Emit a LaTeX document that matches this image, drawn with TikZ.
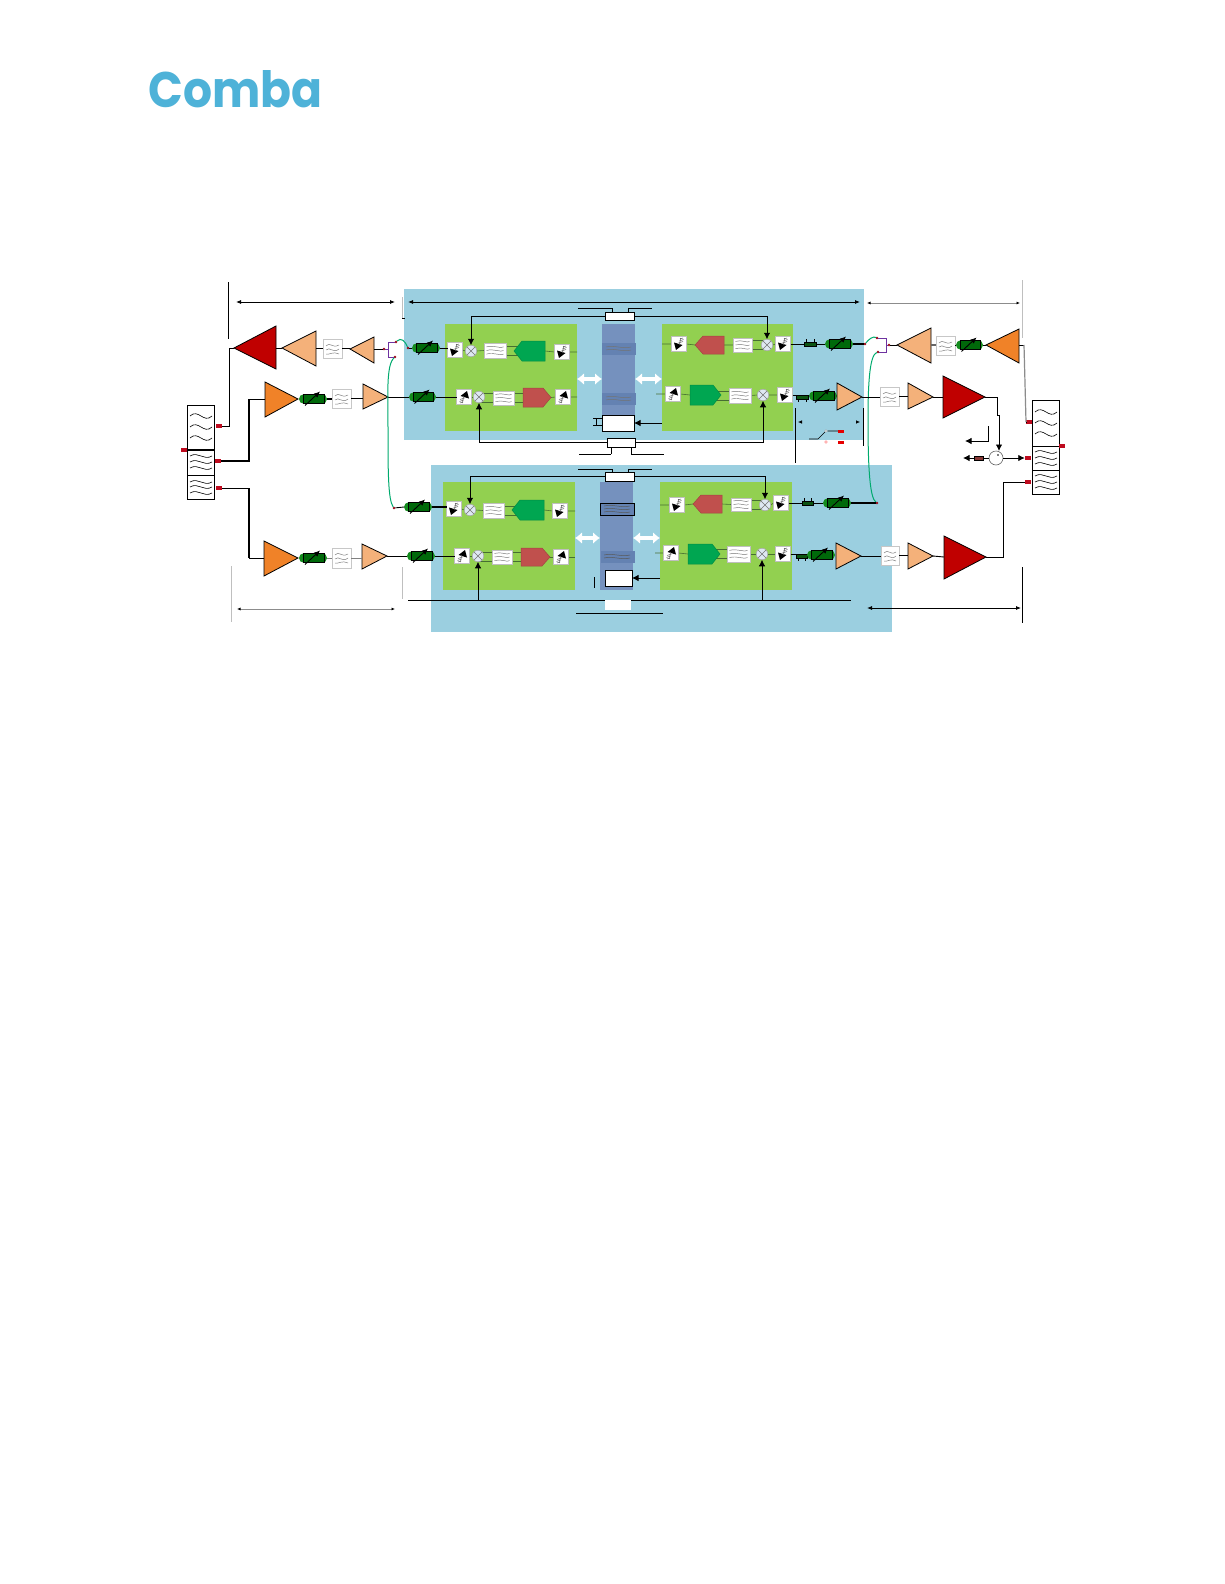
\documentclass[tikz,border=0pt]{standalone}
\usepackage{fontspec}
\newfontfamily\logofont{Poppins}
\usetikzlibrary{arrows.meta,shapes.misc,calc}
\definecolor{bluebg}{RGB}{155,207,224}
\definecolor{panelg}{RGB}{146,208,80}
\definecolor{barblue}{RGB}{117,145,190}
\definecolor{bandblue}{RGB}{100,130,178}
\definecolor{pentg}{RGB}{0,166,81}
\definecolor{pentr}{RGB}{192,80,77}
\definecolor{ampred}{RGB}{192,0,0}
\definecolor{amppeach}{RGB}{244,177,122}
\definecolor{amporange}{RGB}{240,130,40}
\definecolor{vgreen}{RGB}{20,140,30}
\definecolor{vdark}{RGB}{0,105,10}
\definecolor{padred}{RGB}{190,10,30}
\definecolor{curveg}{RGB}{0,170,110}
\definecolor{purp}{RGB}{110,50,160}
\definecolor{mixfill}{RGB}{222,232,242}
\definecolor{logoblue}{RGB}{78,178,216}
\definecolor{inwire}{RGB}{70,110,50}
\pgfdeclarelayer{under}\pgfdeclarelayer{wires}\pgfsetlayers{under,wires,main}
\tikzset{
  ampsty/.style={draw=black,line width=.8pt,line join=miter},
  wire/.style={black,line width=.9pt},
  fatwire/.style={black,line width=1.7pt},
  inw/.style={inwire,line width=.6pt},
  ctrl/.style={black,line width=.9pt,-{Latex[length=6.5pt,width=6.5pt]}},
  dimb/.style={black,line width=.8pt,{Latex[length=5pt,width=4pt]}-{Latex[length=5pt,width=4pt]}},
  dimg/.style={black!45,line width=.8pt,{Latex[length=3.5pt,width=3pt,black]}-{Latex[length=3.5pt,width=3pt,black]}},
  tickb/.style={black,line width=.9pt},
  tickg/.style={black!25,line width=.8pt},
  blk/.style={draw=none,fill=bluebg,inner sep=0pt,outer sep=0pt},
  pnl/.style={draw=none,fill=panelg,inner sep=0pt,outer sep=0pt},
  barb/.style={draw=none,fill=barblue,inner sep=0pt,outer sep=0pt},
  bandb/.style={draw=bandblue,line width=.4pt,fill=bandblue,inner sep=0pt,outer sep=0pt},
  bandk/.style={draw=black,line width=.8pt,fill=bandblue,inner sep=0pt,outer sep=0pt},
  whitebox/.style={draw=black,line width=.9pt,fill=white,inner sep=0pt,outer sep=0pt},
  plainwhite/.style={draw=none,fill=white,inner sep=0pt,outer sep=0pt},
  filtin/.style={draw=black!25,line width=.6pt,fill=white,inner sep=0pt,outer sep=0pt},
  filtamp/.style={draw=black!22,line width=.7pt,fill=white,inner sep=0pt,outer sep=0pt},
  sattbox/.style={draw=black!25,line width=.4pt,fill=white,minimum width=15pt,minimum height=15pt,inner sep=0pt,outer sep=0pt},
  mixer/.style={circle,draw=black!35,line width=.5pt,fill=mixfill,minimum size=11.5pt,inner sep=0pt,outer sep=0pt},
  pad/.style={fill=padred,draw=none,minimum width=6.5pt,minimum height=3.2pt,inner sep=0pt,outer sep=0pt},
  dotr/.style={fill=padred!80!black,draw=none,circle,minimum size=2.6pt,inner sep=0pt,outer sep=0pt},
  curve/.style={curveg,line width=1pt},
  dupbox/.style={draw=black,line width=.8pt,fill=white,inner sep=0pt,outer sep=0pt},
  whitearrow/.style={white,line width=4pt,{Latex[length=7pt,width=12pt]}-{Latex[length=7pt,width=12pt]}}
}
% box by corners
\newcommand\bx[6]{\pgfmathsetmacro\bxw{(#3)-(#1)}\pgfmathsetmacro\bxh{(#4)-(#2)}%
  \node[#6,minimum width=\bxw pt,minimum height=\bxh pt] (#5) at ({(#1+#3)/2},{(#2+#4)/2}) {};}
% triangle amp: name, tip x,y, base x, top, bottom, colour
\newcommand\tri[7]{\draw[ampsty,fill=#7] (#2,#3)--(#4,#5)--(#4,#6)--cycle;
  \coordinate (#1-t) at (#2,#3);\coordinate (#1-b) at (#4,#3);}
% variable attenuator
\newcommand\vatt[4]{\pgfmathsetmacro\vw{#3-#2}%
  \node[rounded rectangle,fill=vgreen,draw=none,minimum width=\vw pt,minimum height=9.5pt,inner sep=0pt,outer sep=0pt,rounded rectangle arc length=180] (#1) at ({(#2+#3)/2},#4) {};
  \draw[black,line width=.8pt,fill=vdark] ([shift={({-\vw/2+4},-4.5)}]#1.center) rectangle ([shift={({\vw/2-3},4.5)}]#1.center);
  \draw[black,line width=.9pt,-{Latex[length=6pt,width=5.5pt]}] ([shift={(-8,6.5)}]#1.center)--([shift={(7,-7.5)}]#1.center);}
% wave lines
\newcommand\wv[4]{\draw[#4] ({#1},{#3}) .. controls ({#1+(#2-#1)*.33},{#3-2.2}) and ({#1+(#2-#1)*.66},{#3+2.2}) .. ({#2},{#3});}
% inner filter with three waves
\newcommand\ifilt[5]{\bx{#2}{#3}{#4}{#5}{#1}{filtin}
  \wv{#2+2.5}{#4-2.5}{(#3+#5)/2-3.6}{black!55,line width=.45pt}
  \wv{#2+2.5}{#4-2.5}{(#3+#5)/2}{black!55,line width=.45pt}
  \wv{#2+2.5}{#4-2.5}{(#3+#5)/2+3.6}{black!55,line width=.45pt}}
% filter between amps
\newcommand\afilt[5]{\bx{#2}{#3}{#4}{#5}{#1}{filtamp}
  \draw[black!50,line width=.5pt] (#2+3,#3+7) .. controls (#2+7,#3+2) and (#2+9,#3+10) .. (#4-3,#3+6);
  \draw[black!50,line width=.5pt] (#2+3,#3+11) .. controls (#2+7,#3+7) and (#2+10,#3+15) .. (#4-3,#3+10);
  \draw[black!50,line width=.5pt] (#2+3,#3+15) .. controls (#2+7,#3+16) and (#2+10,#3+12) .. (#4-3,#3+15);}
% step attenuator
\newcommand\satt[4]{\node[sattbox] (#1) at (#2,#3) {};
  \begin{scope}[shift={(#2,#3)},rotate=#4]
   \fill[black] (-5,-1.5)--(3.5,1)--(-3,6)--cycle;
   \draw[black!60,line width=.5pt] (-.5,-1)--(4,-2.5) (.5,-3)--(4.5,-4.5) (1,-5)--(4,-6) (1.5,-6)--(.5,1);
  \end{scope}}
% mixer
\newcommand\mix[3]{\node[mixer] (#1) at (#2,#3) {};
  \draw[black!55,line width=.5pt] ([shift={(-3.8,-3.8)}]#1.center)--([shift={(3.8,3.8)}]#1.center) ([shift={(-3.8,3.8)}]#1.center)--([shift={(3.8,-3.8)}]#1.center);}
% pentagon pointing right/left: name,x1,y1,x2,y2,colour
\newcommand\pentR[6]{\draw[#6!85!black,line width=.5pt,fill=#6] (#2,#3)--(#4-8,#3)--(#4,{(#3+#5)/2})--(#4-8,#5)--(#2,#5)--cycle;
  \coordinate (#1-l) at (#2,{(#3+#5)/2});\coordinate (#1-r) at (#4,{(#3+#5)/2});\coordinate (#1-c) at ({(#2+#4)/2},{(#3+#5)/2});}
\newcommand\pentL[6]{\draw[#6!85!black,line width=.5pt,fill=#6] (#4,#3)--(#2+8,#3)--(#2,{(#3+#5)/2})--(#2+8,#5)--(#4,#5)--cycle;
  \coordinate (#1-l) at (#2,{(#3+#5)/2});\coordinate (#1-r) at (#4,{(#3+#5)/2});\coordinate (#1-c) at ({(#2+#4)/2},{(#3+#5)/2});}
% small inline filter: with marks above (1) or legs below (-1)
\newcommand\sfilt[6]{\bx{#2}{#3-2.2}{#4}{#3+2.2}{#1}{draw=black,line width=.5pt,fill=#5,inner sep=0pt,outer sep=0pt}
  \draw[black,line width=.6pt] (#2+2,#3-2*#6)--(#2+2,#3-5*#6) (#4-2,#3-2*#6)--(#4-2,#3-5*#6);}
% segment between two named coordinates
\newcommand\seg[6]{\coordinate (#1a) at (#2,#3);\coordinate (#1b) at (#4,#5);\draw[#6] (#1a)--(#1b);}
% level wire from a towards b
\newcommand\hw[3]{\draw[#1] (#2)--(#2 -| #3);}
% pair of double lines filter - pentagon
\newcommand\dbl[2]{\draw[inw] ([yshift=-4.5pt]#1.center)--([yshift=-4.5pt]#1.center -| #2);\draw[inw] ([yshift=4.5pt]#1.center)--([yshift=4.5pt]#1.center -| #2);}
% duplexer waves
\newcommand\dw[4]{\draw[black,line width=.6pt] (#1,#3) .. controls ({#1+(#2-#1)*.38},{#3-2*#4}) and ({#1+(#2-#1)*.62},{#3+2*#4}) .. (#2,#3);}

\begin{document}
\begin{tikzpicture}[x=1pt,y=-1pt]
\useasboundingbox (0,0) rectangle (1224,1584);

% logo
\node[inner sep=0pt,text=logoblue] (logo) at (235.5,89) {\resizebox{174pt}{37pt}{\logofont\bfseries Comba}};

\begin{pgfonlayer}{under}
\fill[white] (0,0) rectangle (1224,1584);
\bx{404}{289}{864}{440}{blueU}{blk}
\bx{431}{465}{892}{632}{blueL}{blk}
\bx{445}{324}{577}{431}{gUL}{pnl}
\bx{662}{324}{793}{431}{gUR}{pnl}
\bx{443}{482}{575}{590}{gLL}{pnl}
\bx{660}{482}{792}{590}{gLR}{pnl}
\bx{602}{324}{635}{431}{barU}{barb}
\bx{600}{482}{633}{590}{barL}{barb}
\bx{602}{343}{635}{354}{bandU1}{bandb}
\bx{602}{393}{635}{404}{bandU2}{bandb}
\bx{600}{503}{634}{515}{bandL1}{bandk}
\bx{601}{551}{634}{562}{bandL2}{bandb}
\end{pgfonlayer}

% waves in the bands
\foreach \yy in {347,350,397,400}{\wv{606}{631}{\yy}{black!55,line width=.5pt}}
\foreach \yy in {506,509,512,555,558}{\wv{604}{630}{\yy}{black!65,line width=.5pt}}

% ---------- upper block, components
\satt{a1}{455}{350}{0}
\mix{m1}{471}{351}
\ifilt{f1}{484}{343}{506}{358}
\pentL{p1}{514}{341}{545}{361}{pentg}
\satt{a2}{562}{352}{0}
\satt{a3}{464}{397}{180}
\mix{m2}{479}{397}
\ifilt{f2}{493}{391}{514}{405}
\pentR{p2}{523}{388}{551}{407}{pentr}
\satt{a4}{563}{397}{180}
\satt{a5}{679}{344}{0}
\pentL{p3}{695}{336}{724}{354}{pentr}
\ifilt{f3}{733}{338}{752}{352}
\mix{m3}{767}{345}
\satt{a6}{783}{344}{0}
\satt{a7}{673}{394}{180}
\pentR{p4}{690}{385}{721}{405}{pentg}
\ifilt{f4}{729}{388}{751}{403}
\mix{m4}{763}{395}
\satt{a8}{785}{395}{0}

% ---------- lower block, components
\satt{b1}{454}{509}{0}
\mix{n1}{470}{510}
\ifilt{g1}{483}{503}{504}{518}
\pentL{q1}{512}{500}{544}{520}{pentg}
\satt{b2}{560}{511}{0}
\satt{b3}{462}{556}{180}
\mix{n2}{478}{556}
\ifilt{g2}{492}{550}{512}{564}
\pentR{q2}{521}{548}{550}{566}{pentr}
\satt{b4}{561}{557}{180}
\satt{b5}{677}{505}{0}
\pentL{q3}{693}{495}{722}{513}{pentr}
\ifilt{g3}{731}{498}{751}{511}
\mix{n3}{765}{505}
\satt{b6}{781}{503}{0}
\satt{b7}{671}{553}{180}
\pentR{q4}{688}{544}{720}{564}{pentg}
\ifilt{g4}{727}{546}{750}{562}
\mix{n4}{762}{554}
\satt{b8}{783}{554}{0}

% control boxes
\bx{605}{312}{634}{320}{ctlU}{whitebox}
\bx{602}{415}{634}{431}{ocU}{whitebox}
\bx{607}{438}{635}{447}{ctlB}{whitebox}
\bx{605}{472}{634}{481}{ctlL}{whitebox}
\bx{605}{570}{632}{586}{ocL}{whitebox}

% inner wires
\begin{pgfonlayer}{wires}
\coordinate (ulout) at (577,352);
\draw[inw] (a1.east)--(m1.west) (m1.east)--(f1.west);
\dbl{f1}{p1-c}
\draw[inw] (p1-r)--(a2.west) (a2.east)--(ulout);
\coordinate (ulin2) at (452,397);
\draw[inw] (ulin2)--(a3.west) (a3.east)--(m2.west);
\dbl{f2}{m2}\dbl{f2}{p2-c}
\draw[inw] (p2-r)--(a4.west) (a4.east)--(gUL.east |- a4.east);
\coordinate (urin) at (662,344);\coordinate (urin2) at (656,394);
\draw[inw] (urin)--(a5.west) (a5.east)--(p3-l) (p3-r)--(f3.west);
\dbl{f3}{m3}
\draw[inw] (m3.east)--(a6.west);
\draw[inw] (urin2)--(a7.west) (a7.east)--(p4-l);
\dbl{f4}{p4-c}
\draw[inw] (f4.east)--(m4.west) (m4.east)--(a8.west);
\coordinate (llin2) at (450,556);
\draw[inw] (b1.east)--(n1.west) (n1.east)--(g1.west);
\dbl{g1}{q1-c}
\draw[inw] (q1-r)--(b2.west) (b2.east)--(gLL.east |- b2.east);
\draw[inw] (llin2)--(b3.west) (b3.east)--(n2.west);
\dbl{g2}{n2}\dbl{g2}{q2-c}
\draw[inw] (q2-r)--(b4.west) (b4.east)--(gLL.east |- b4.east);
\coordinate (lrin) at (660,505);\coordinate (lrin2) at (655,553);
\draw[inw] (lrin)--(b5.west) (b5.east)--(q3-l) (q3-r)--(g3.west);
\dbl{g3}{n3}
\draw[inw] (n3.east)--(b6.west);
\draw[inw] (lrin2)--(b7.west) (b7.east)--(q4-l);
\dbl{g4}{q4-c}
\draw[inw] (g4.east)--(n4.west) (n4.east)--(b8.west);
\end{pgfonlayer}

% control connectors
\draw[ctrl] (ctlU.west) -| (m1.north);
\draw[ctrl] (ctlU.east) -| (m3.north);
\draw[ctrl] (ctlB.west) -| (m2.south);
\draw[ctrl] (ctlB.east) -| (m4.south);
\draw[ctrl] (ctlL.west) -| (n1.north);
\draw[ctrl] (ctlL.east) -| (n3.north);
\draw[ctrl] (gUR.west |- ocU.east) -- (ocU.east);
\draw[ctrl] (gLR.west |- ocL.east) -- (ocL.east);
\coordinate (busl) at (408,600);\coordinate (busr) at (851,600);
\draw[wire] (busl)--(busr);
\bx{605}{600}{631}{610}{ctlW}{plainwhite}
\draw[ctrl] (n2.south |- busl)--(n2.south);
\draw[ctrl] (n4.south |- busl)--(n4.south);
% connector port of the upper white box
\draw[black,line width=.9pt] (593,418.5)--(602,418.5) (593,425)--(602,425) (596,418.5)--(596,425);

% white double arrows
\coordinate (yA) at (0,379);\coordinate (yB) at (0,538);
\draw[whitearrow] (gUL.east |- yA)--(barU.west |- yA);
\draw[whitearrow] (barU.east |- yA)--(gUR.west |- yA);
\draw[whitearrow] (gLL.east |- yB)--(barL.west |- yB);
\draw[whitearrow] (barL.east |- yB)--(gLR.west |- yB);

% stubs around the control boxes
\seg{s1}{578}{308}{612}{308}{wire}\seg{s2}{612}{308}{612}{312}{wire}
\seg{s3}{628}{312}{628}{308}{wire}\seg{s4}{628}{308}{652}{308}{wire}
\seg{s5}{579}{454}{611}{454}{wire}\seg{s6}{611}{454}{611}{447}{wire}
\seg{s7}{631}{447}{631}{454}{wire}\seg{s8}{631}{454}{664}{454}{wire}
\seg{s9}{578}{469}{612}{469}{wire}\seg{s10}{612}{469}{612}{472}{wire}
\seg{s11}{628}{472}{628}{469}{wire}\seg{s12}{628}{469}{652}{469}{wire}
\seg{s13}{576}{613}{663}{613}{wire}
\seg{s14}{594}{577}{594}{588}{wire}

% ---------- left side
\tri{Ar1}{234}{348}{276}{326}{369}{ampred}
\tri{Ap1}{282}{348}{316}{331}{366}{amppeach}
\afilt{Fa1}{323}{339}{342}{358}
\tri{Ap2}{350}{349}{374}{337}{363}{amppeach}
\tri{Ao1}{298}{399}{265}{382}{417}{amporange}
\vatt{Va1}{299}{327}{399}
\afilt{Fa2}{332}{389}{351}{408}
\tri{Ap3}{388}{397}{363}{384}{409}{amppeach}
\vatt{Va2}{409}{436}{397}
\vatt{Va3}{412}{440}{348}
\tri{Ao2}{298}{558}{264}{541}{576}{amporange}
\vatt{Va4}{299}{327}{558}
\afilt{Fa3}{332}{548}{351}{568}
\tri{Ap4}{387}{556}{362}{544}{569}{amppeach}
\vatt{Va5}{407}{435}{556}
\vatt{Va6}{404}{432}{507}

% left duplexer
\bx{187}{405}{214}{450}{DL1}{dupbox}
\bx{187}{450}{214}{475}{DL2}{dupbox}
\bx{187}{475}{214}{499}{DL3}{dupbox}
\draw[black,line width=1.6pt] (DL1.south west)--(DL1.south east);
\foreach \yy in {416,427,438}{\dw{190}{212}{\yy}{4}}
\foreach \yy in {456,462,468}{\dw{190}{212}{\yy}{2.5}}
\foreach \yy in {482,487,493}{\dw{190}{212}{\yy}{2.5}}
\node[pad] (PL0) at (184,450) {};
\node[pad] (PL1) at (219,426) {};
\node[pad] (PL2) at (218,461) {};
\node[pad] (PL3) at (219,488) {};

% left wires
\coordinate (LJ1) at (229,348);\coordinate (LJ2) at (249,399);\coordinate (LJ3) at (249,488);\coordinate (LJ4) at (249,558);
\draw[wire] (PL1.east) -| (LJ1) -- (Ar1-t);
\draw[wire] (Ar1-b)--(Ap1-t);
\hw{wire}{Ap1-b}{Fa1.west}
\hw{wire}{Fa1.east}{Ap2-t}
\draw[fatwire] (PL2.east) -| (LJ2);
\draw[wire] (LJ2)--(Ao1-b);
\hw{fatwire}{Va1.east}{Fa2.west}
\hw{fatwire}{Fa2.east}{Ap3-b}
\draw[wire] (Ap3-t)--(Va2.west);
\draw[wire] (Va2.east)--(a3.west);
\draw[wire] (PL3.east)--(LJ3);
\draw[fatwire] (LJ3)--(LJ4);
\draw[wire] (LJ4)--(Ao2-b);
\hw{black!50,line width=.9pt}{Va4.east}{Fa3.west}
\hw{black!50,line width=.9pt}{Fa3.east}{Ap4-b}
\draw[wire] (Ap4-t)--(Va5.west);
\draw[wire] (Va5.east)--(b3.west);
% splitter left
\node[dotr] (dSp) at (384,349) {};
\node[dotr] (dS1) at (396,342) {};
\node[dotr] (dS2) at (395,357) {};
\node[dotr] (dS3) at (408,348) {};
\node[dotr] (dS4) at (394,508) {};
\draw[wire] (Ap2-b)--(dSp);
\coordinate (sp1) at (388,349);\coordinate (sp2) at (388,342);\coordinate (sp3) at (388,357);
\draw[purp,line width=.8pt] (dSp)--(sp1) (dS1)--(sp2)--(sp3)--(dS2);
\draw[curve] (dS1) .. controls (401,337) and (405,341) .. (dS3);
\draw[curve] (dS2) .. controls (386,365) and (388,395) .. (388,430) .. controls (388,470) and (388,500) .. (dS4);
\draw[wire] (dS3)--(Va3.west);
\hw{wire}{Va3.east}{a1.west}
\draw[wire] (dS4)--(Va6.west);
\hw{fatwire}{Va6.east}{b1.west}

% ---------- right side
\sfilt{Sf1}{804}{344}{816}{vgreen!60!black}{1}
\vatt{Vb1}{825}{853}{344}
\tri{Bp1}{897}{345}{931}{328}{363}{amppeach}
\afilt{Fb1}{936}{336}{955}{355}
\vatt{Vb2}{956}{983}{345}
\tri{Bo1}{986}{345}{1019}{329}{363}{amporange}
\sfilt{Sf2}{796}{397}{808}{vgreen!60!black}{-1}
\vatt{Vb3}{809}{837}{396}
\tri{Bp2}{862}{397}{837}{383}{410}{amppeach}
\afilt{Fb2}{880}{387}{899}{406}
\tri{Bp3}{933}{397}{908}{383}{409}{amppeach}
\tri{Br1}{985}{397}{943}{376}{418}{ampred}
\sfilt{Sf3}{802}{503}{813}{vgreen!60!black}{1}
\vatt{Vb4}{823}{851}{503}
\sfilt{Sf4}{796}{556}{807}{vgreen!60!black}{-1}
\vatt{Vb5}{807}{835}{555}
\tri{Bp4}{861}{556}{836}{543}{569}{amppeach}
\afilt{Fb3}{881}{546}{899}{565}
\tri{Bp5}{933}{556}{908}{543}{569}{amppeach}
\tri{Br2}{986}{557}{944}{536}{579}{ampred}

% right duplexer
\bx{1032}{400}{1059}{446}{DR1}{dupbox}
\bx{1032}{446}{1059}{470}{DR2}{dupbox}
\bx{1032}{470}{1059}{494}{DR3}{dupbox}
\foreach \yy in {412,423,434}{\dw{1035}{1057}{\yy}{4}}
\foreach \yy in {452,458,464}{\dw{1035}{1057}{\yy}{2.5}}
\foreach \yy in {476,482,488}{\dw{1035}{1057}{\yy}{2.5}}
\node[pad] (PR0) at (1062,446) {};
\node[pad] (PR1) at (1029,422) {};
\node[pad] (PR2) at (1028,458) {};
\node[pad] (PR3) at (1028,482) {};

% right wires
\hw{wire}{a6.east}{Sf1.west}
\hw{wire}{Sf1.east}{Vb1.west}
\node[dotr] (eS1) at (865,344) {};
\node[dotr] (eS2) at (877,338) {};
\node[dotr] (eS3) at (878,352) {};
\node[dotr] (eSp) at (889,345) {};
\node[dotr] (eS4) at (877,503) {};
\draw[fatwire] (Vb1.east)--(eS1);
\draw[curve] (eS1) .. controls (869,339) and (873,336) .. (eS2);
\draw[curve] (eS3) .. controls (870,355) and (868,380) .. (868,420) .. controls (868,470) and (870,498) .. (eS4);
\coordinate (ep1) at (886,338);\coordinate (ep2) at (886,352);\coordinate (ep3) at (886,345);
\draw[purp,line width=.8pt] (eS2)--(ep1)--(ep2)--(eS3) (ep3)--(eSp);
\draw[wire] (eSp)--(Bp1-t);
\hw{black!60,line width=1.4pt}{Bp1-b}{Fb1.west}
\hw{wire}{Fb1.east}{Vb2.west}
\draw[wire] (Vb2.east)--(Bo1-t);
\coordinate (RJ1) at (1024,345);\coordinate (RJ2) at (1026,422);
\draw[wire] (Bo1-b)--(RJ1);
\draw[black!45,line width=1.2pt] (RJ1)--(RJ2);
\draw[wire] (RJ2)--(PR1.west);
\hw{wire}{a8.east}{Sf2.west}
\hw{wire}{Bp2-t}{Fb2.west}
\hw{wire}{Fb2.east}{Bp3-b}
\draw[wire] (Bp3-t)--(Br1-b);
\hw{wire}{b6.east}{Sf3.west}
\hw{wire}{Sf3.east}{Vb4.west}
\draw[fatwire] (Vb4.east)--(eS4);
\hw{wire}{b8.east}{Sf4.west}
\hw{wire}{Bp4-t}{Fb3.west}
\hw{wire}{Fb3.east}{Bp5-b}
\draw[wire] (Bp5-t)--(Br2-b);
\coordinate (RJ3) at (1003,482);
\draw[wire] (Br2-t)-|(RJ3)--(PR3.west);
% circulator
\node[circle,draw=black!60,line width=.6pt,fill=white,minimum size=14pt,inner sep=0pt,outer sep=0pt] (circ) at (996,458) {};
\fill[black] (998,455) circle (.9);
\coordinate (RJ4) at (997,397);\coordinate (RJ5) at (997,415);\coordinate (RJ6) at (999,415);
\draw[wire] (Br1-t)--(RJ4)--(RJ5)--(RJ6);
\draw[ctrl] (RJ6)--(circ.north -| RJ6);
\draw[ctrl] (circ.east)--(PR2.west);
\bx{974}{456}{983}{460}{rload}{draw=black,line width=.4pt,fill=pentr!70!black,inner sep=0pt,outer sep=0pt}
\draw[wire] (circ.west)--(rload.east);
\coordinate (rlE) at (963,458);
\draw[ctrl] (rload.west)--(rlE);
\coordinate (rsA) at (988,426);\coordinate (rsB) at (965,441);
\draw[ctrl] (rsA)|-(rsB);

% switch
\coordinate (swA) at (809,439);\coordinate (swB) at (818,439);
\node[circle,draw=black!40,fill=white,minimum size=2.6pt,inner sep=0pt] (swP1) at (826,431) {};
\node[circle,draw=red!60,fill=white,minimum size=2.6pt,inner sep=0pt] (swP2) at (826,442) {};
\node[fill=red!90!black,minimum width=6pt,minimum height=3pt,inner sep=0pt] (swR1) at (841,431) {};
\node[fill=red!90!black,minimum width=6pt,minimum height=3pt,inner sep=0pt] (swR2) at (841,442) {};
\draw[black,line width=.6pt] (swA)--(swB)--(swP1) (swP1)--(swR1);

% dimension lines and ticks
\seg{t1}{228}{282}{228}{339}{tickb}
\seg{d1}{236}{302}{395}{302}{dimb}
\seg{t2}{402}{297}{402}{318}{tickg}
\seg{t3}{402}{318}{405}{318}{tickb}
\seg{d2}{408}{302}{860}{302}{dimb}
\seg{d3}{867}{303}{1020}{303}{dimg}
\seg{t4}{1022}{280}{1022}{338}{tickg}
\seg{t5}{795}{408}{795}{463}{tickb}
\seg{t6}{863}{408}{863}{446}{tickb}
\coordinate (d4a) at (798,422);\coordinate (d4b) at (860,422);
\draw[-{Latex[length=4pt,width=3.5pt]},black,line width=.6pt] ($(d4a)+(3,0)$)--(d4a);
\draw[-{Latex[length=4pt,width=3.5pt]},black,line width=.6pt] ($(d4b)+(-3,0)$)--(d4b);
\seg{t7}{231}{566}{231}{622}{tickg}
\seg{t8}{402}{567}{402}{599}{tickg}
\seg{d5}{237}{609}{395}{609}{dimg}
\seg{d6}{867}{608}{1021}{608}{dimb}
\seg{t9}{1022}{567}{1022}{623}{tickb}
\end{tikzpicture}
\end{document}
